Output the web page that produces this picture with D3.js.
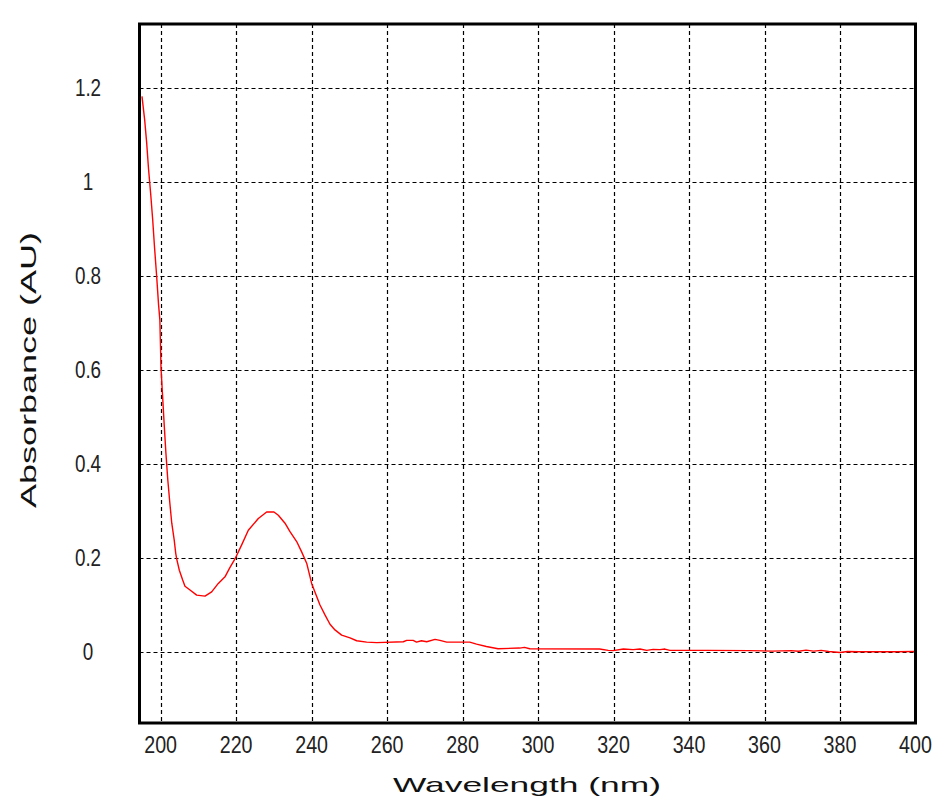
<!DOCTYPE html>
<html>
<head>
<meta charset="utf-8">
<script src="https://cdn.jsdelivr.net/npm/d3@7"></script>
<style>
  body { margin: 0; background: #fff; }
  svg { display: block; }
  .tick-label { font-family: "Liberation Sans", Arial, sans-serif; fill: #222; }
  .title { font-family: "Liberation Sans", Arial, sans-serif; fill: #111; }
</style>
</head>
<body>
<div id="chart"></div>
<script>
const width = 937;
const height = 803;

// spectrum
const wavelength = [
  195.06, 195.77, 196.3, 196.8, 197.35, 197.9, 198.4, 198.95, 199.45, 199.8,
  200.1, 200.5, 200.95, 201.4, 201.9, 202.45, 202.95, 203.6, 204.0, 204.25,
  204.95, 205.84, 206.45, 207.78, 209.55, 211.75, 213.52, 215.28, 217.05, 218.38,
  219.7, 221.47, 223.23, 225.88, 228.09, 230.03, 231.18, 232.95, 234.27, 236.04,
  237.36, 238.69, 240.01, 241.34, 242.22, 243.54, 244.87, 246.19, 247.96, 250.17,
  251.94, 254.59, 257.24, 264.3, 265.2, 266.9, 267.8, 269.1, 270.5, 272.7,
  274.0, 275.8, 281.9, 283.7, 286.3, 289.4, 295.1, 296.4, 297.8, 316.3,
  318.6, 319.9, 322.6, 325.2, 327.0, 328.8, 330.5, 332.3, 333.6, 334.9,
  345, 356, 362, 367, 369, 371, 373, 375, 377, 380,
  382, 385, 390, 395, 399.5, 400
];
const absorbance = [
  1.183, 1.133, 1.084, 1.028, 0.977, 0.920, 0.860, 0.800, 0.740, 0.707,
  0.605, 0.548, 0.484, 0.424, 0.367, 0.317, 0.275, 0.239, 0.211, 0.199,
  0.175, 0.154, 0.141, 0.133, 0.122, 0.120, 0.129, 0.147, 0.161, 0.181,
  0.199, 0.229, 0.260, 0.285, 0.299, 0.299, 0.292, 0.275, 0.257, 0.236,
  0.214, 0.190, 0.147, 0.119, 0.101, 0.080, 0.060, 0.048, 0.037, 0.031,
  0.025, 0.022, 0.021, 0.0228, 0.0257, 0.0257, 0.022, 0.025, 0.0228, 0.028,
  0.0257, 0.022, 0.022, 0.0178, 0.0128, 0.008, 0.0094, 0.0108, 0.008, 0.0073,
  0.0045, 0.004, 0.0073, 0.006, 0.0073, 0.0045, 0.0066, 0.006, 0.0073, 0.0045,
  0.0045, 0.004, 0.003, 0.004, 0.0025, 0.005, 0.003, 0.0045, 0.002, 0.0,
  0.002, 0.0015, 0.0015, 0.0015, 0.002, 0.004
];
const xTicks = [200, 220, 240, 260, 280, 300, 320, 340, 360, 380, 400];
const yTicks = [0, 0.2, 0.4, 0.6, 0.8, 1, 1.2];

const plot = { left: 139.5, right: 915.5, top: 24, bottom: 723 };

const x = d3.scaleLinear().domain([194.4, 400]).range([plot.left, plot.right]);
const y = d3.scaleLinear().domain([-0.15, 1.337]).range([plot.bottom, plot.top]);

const svg = d3.select("#chart")
    .append("svg")
    .attr("width", width)
    .attr("height", height);

svg.append("defs").append("clipPath")
    .attr("id", "plot-clip")
    .append("rect")
    .attr("x", plot.left)
    .attr("y", plot.top)
    .attr("width", plot.right - plot.left)
    .attr("height", plot.bottom - plot.top);

// grid
const grid = svg.append("g")
    .attr("stroke", "#000")
    .attr("stroke-width", 1.2)
    .attr("stroke-dasharray", "4,3");

grid.selectAll(".vgrid")
    .data(xTicks.filter(d => d < 400))
    .enter().append("line")
    .attr("class", "vgrid")
    .attr("x1", d => Math.round(x(d)) + 0.5)
    .attr("x2", d => Math.round(x(d)) + 0.5)
    .attr("y1", plot.top)
    .attr("y2", plot.bottom);

grid.selectAll(".hgrid")
    .data(yTicks)
    .enter().append("line")
    .attr("class", "hgrid")
    .attr("x1", plot.left)
    .attr("x2", plot.right)
    .attr("y1", d => Math.round(y(d)) + 0.5)
    .attr("y2", d => Math.round(y(d)) + 0.5);

// spectrum
const points = wavelength.map((w, i) => [w, absorbance[i]]);
const line = d3.line()
    .x(d => x(d[0]))
    .y(d => y(d[1]));

svg.append("path")
    .datum(points)
    .attr("clip-path", "url(#plot-clip)")
    .attr("fill", "none")
    .attr("stroke", "#ff0000")
    .attr("stroke-width", 1.4)
    .attr("stroke-linejoin", "round")
    .attr("d", line);

// frame
svg.append("rect")
    .attr("x", plot.left)
    .attr("y", plot.top)
    .attr("width", plot.right - plot.left)
    .attr("height", plot.bottom - plot.top)
    .attr("fill", "none")
    .attr("stroke", "#000")
    .attr("stroke-width", 3);

// tick labels (narrow face, so squeeze horizontally)
svg.append("g").selectAll("text")
    .data(xTicks)
    .enter().append("text")
    .attr("class", "tick-label")
    .attr("transform", d => `translate(${x(d)},752.5) scale(0.82,1)`)
    .attr("text-anchor", "middle")
    .style("font-size", "24px")
    .text(d => d);

svg.append("g").selectAll("text")
    .data(yTicks)
    .enter().append("text")
    .attr("class", "tick-label")
    .attr("transform", d => `translate(88,${y(d) + 8}) scale(0.82,1)`)
    .attr("text-anchor", "middle")
    .style("font-size", "23px")
    .text(d => d);

// axis titles
svg.append("text")
    .attr("class", "title")
    .attr("x", 527)
    .attr("y", 792)
    .attr("text-anchor", "middle")
    .attr("textLength", 268)
    .attr("lengthAdjust", "spacingAndGlyphs")
    .style("font-size", "21px")
    .text("Wavelength (nm)");

svg.append("text")
    .attr("class", "title")
    .attr("transform", "translate(36,370) rotate(-90)")
    .attr("text-anchor", "middle")
    .attr("textLength", 276)
    .attr("lengthAdjust", "spacingAndGlyphs")
    .style("font-size", "22px")
    .text("Absorbance (AU)");
</script>
</body>
</html>
